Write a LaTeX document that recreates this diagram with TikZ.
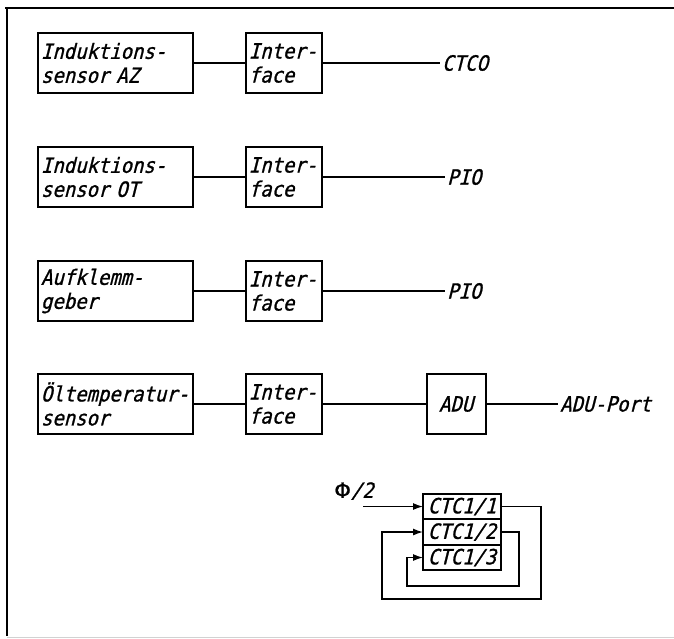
\documentclass[tikz,border=0pt]{standalone}
\usepackage{fontspec}
\newfontfamily\isofont{DejaVu Sans Mono}[FakeStretch=0.9,FakeSlant=0.25,FakeBold=1]
\newfontfamily\isozero{DejaVu Sans}[FakeStretch=0.9,FakeSlant=0.25,FakeBold=1]
\newfontfamily\isoup{DejaVu Sans}[FakeBold=1]
\usetikzlibrary{arrows.meta,positioning}
\begin{document}
\begin{tikzpicture}[x=1pt,y=-1pt,font=\isofont\fontsize{21}{24}\selectfont,>={Latex[length=10pt,width=7pt]}]
\tikzset{blk/.style={draw,line width=1.8pt,align=left,inner sep=3pt,minimum height=60pt},
  sens/.style={blk,text width=149pt},
  intf/.style={blk,text width=70pt},
  wire/.style={line width=1.3pt},
  lbl/.style={inner sep=2pt,anchor=west},
  ctc/.style={draw,line width=1.8pt,minimum width=78pt,minimum height=25.5pt,inner sep=0pt,outer sep=0pt}}
\useasboundingbox (0,0) rectangle (674,638);
\draw[line width=1.8pt] (674,8) -- (5,8);
\draw[line width=1.8pt] (7,7) -- (7,636);
\draw[gray!35,line width=1pt] (7,637) -- (674,637);
\node[sens] (s1) at (115.5,63) {Induktions-\\sensor AZ};
\node[sens] (s2) at (115.5,177) {Induktions-\\sensor OT};
\node[sens] (s3) at (115.5,291) {Aufklemm-\\geber};
\node[sens] (s4) at (115.5,404) {Öltemperatur-\\sensor};
\foreach \i in {1,...,4}{\node[intf,right=51pt of s\i] (if\i) {Inter-\\face};
  \draw[wire] (s\i) -- (if\i);}
\node[blk,minimum width=59pt,align=center,right=103pt of if4] (adu) {ADU};
\node[lbl] (o1) at (440,63) {CTC{\isozero 0}};
\node[lbl] (o2) at (445,177) {PIO};
\node[lbl] (o3) at (445,291) {PIO};
\node[lbl] (o4) at (558,404) {ADU-Port};
\foreach \a/\b in {if1/o1,if2/o2,if3/o3,if4/adu,adu/o4}{\draw[wire] (\a) -- (\b);}
\node[ctc] (c1) at (462,506.5) {CTC1/1};
\node[ctc,below=0pt of c1] (c2) {CTC1/2};
\node[ctc,below=0pt of c2] (c3) {CTC1/3};
\node[anchor=south,inner sep=1pt] (phil) at (354,501) {{\isoup Φ}/2};
\coordinate (phi) at (363,506.5);
\coordinate (ra) at (541,599); \coordinate (la) at (382,599);
\coordinate (rb) at (519,586); \coordinate (lb) at (407,586);
\draw[wire,->] (phi) -- (c1);
\draw[wire,->] (c1) -| (ra) -- (la) |- (c2);
\draw[wire,->] (c2) -| (rb) -- (lb) |- (c3);
\end{tikzpicture}
\end{document}
